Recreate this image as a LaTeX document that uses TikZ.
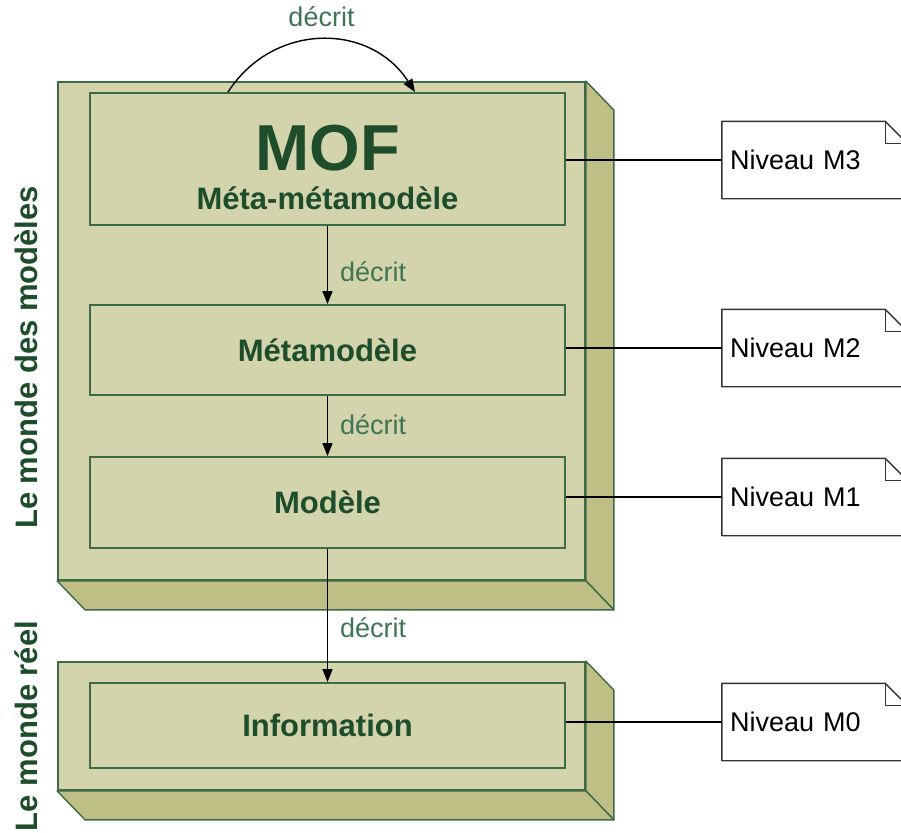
\documentclass[tikz,border=0pt]{standalone}
\usepackage{fontspec}
\setmainfont{Liberation Sans}
\usetikzlibrary{positioning,arrows.meta}
\definecolor{SlabFace}{HTML}{D3D3AC}
\definecolor{SlabSide}{HTML}{BFBE85}
\definecolor{EdgeGreen}{HTML}{3D6B47}
\definecolor{TextGreen}{HTML}{1E4D2B}
\definecolor{LinkGreen}{HTML}{3F7454}
\definecolor{NoteEdge}{HTML}{333333}

\begin{document}
\begin{tikzpicture}[
  x=1pt, y=-1pt,
  slab/.style={draw=EdgeGreen, line width=1.8pt, fill=SlabFace, minimum width=527pt, inner sep=0pt},
  side/.style={draw=EdgeGreen, line width=1.4pt, fill=SlabSide, line join=round},
  layer/.style={draw=EdgeGreen, line width=1.8pt, fill=SlabFace, minimum width=475pt, inner sep=0pt,
    align=center, text=TextGreen, font=\fontsize{31}{36}\selectfont\bfseries},
  title/.style={text=TextGreen, inner sep=0pt, font=\fontsize{65}{70}\selectfont\bfseries},
  note/.style={minimum height=77pt, text width=169pt, inner xsep=8pt, align=left, font=\fontsize{27}{32}\selectfont},
  fold/.style={draw=NoteEdge, line width=1.4pt, line join=round},
  arr/.style={-{Triangle[length=13pt,width=10pt]}, line width=1.4pt},
  link/.style={draw=black, line width=1.2pt},
  lbl/.style={text=LinkGreen, inner sep=0pt, font=\fontsize{27}{32}\selectfont},
  world/.style={rotate=90, text=TextGreen, inner sep=0pt, font=\fontsize{31}{36}\selectfont\bfseries}
]
  \useasboundingbox (0,0) rectangle (901,832);

  % le monde des modeles
  \node[slab, minimum height=498pt] (models) at (321.5,331) {};
  \filldraw[side] (models.north east) -- ++(28,29) -- ([shift={(28,29)}]models.south east) -- (models.south east) -- cycle;
  \filldraw[side] (models.south west) -- ++(28,29) -- ([shift={(28,29)}]models.south east) -- (models.south east) -- cycle;

  % le monde reel
  \node[slab, minimum height=128pt] (real) at (321.5,726) {};
  \filldraw[side] (real.north east) -- ++(28,29) -- ([shift={(28,29)}]real.south east) -- (real.south east) -- cycle;
  \filldraw[side] (real.south west) -- ++(28,29) -- ([shift={(28,29)}]real.south east) -- (real.south east) -- cycle;

  \node[layer, minimum height=132pt] (mof) at (327.5,159) {};
  \node[title] (mofname) at ([yshift=11pt]mof.center) {MOF};
  \node[layer, draw=none, fill=none] (mofsub) at ([yshift=-39pt]mof.center) {Méta-métamodèle};
  \node[layer, minimum height=90pt] (meta) at (327.5,350) {Métamodèle};
  \node[layer, minimum height=91pt] (modele) at (327.5,502.5) {Modèle};
  \node[layer, minimum height=85pt] (info) at (327.5,725.5) {Information};

  \node[world] (modelworld) at (26,357.5) {Le monde des modèles};
  \node[world] (realworld) at (26,726) {Le monde réel};

  % niveaux
  \node[note] (m3) at (814.5,160) {Niveau M3};
  \node[note] (m2) at (814.5,348) {Niveau M2};
  \node[note] (m1) at (814.5,497) {Niveau M1};
  \node[note] (m0) at (814.5,722) {Niveau M0};
  \foreach \n in {m3,m2,m1,m0}{
    \draw[fold] (\n.north west) -- ([xshift=-22pt]\n.north east) -- ([yshift=-22pt]\n.north east)
      -- (\n.south east) -- (\n.south west) -- cycle;
    \draw[fold] ([xshift=-22pt]\n.north east) |- ([yshift=-22pt]\n.north east);
  }

  \draw[link] (mof.east |- m3.west) -- (m3.west);
  \draw[link] (meta.east |- m2.west) -- (m2.west);
  \draw[link] (modele.east |- m1.west) -- (m1.west);
  \draw[link] (info.east |- m0.west) -- (m0.west);

  \draw[arr] ([xshift=-99.5pt]mof.north) .. controls +(45,-70) and +(-45,-70) .. node[lbl, above=12pt] (selfdesc) {décrit} ([xshift=87.5pt]mof.north);
  \draw[arr] (mof.south) -- node[lbl, pos=0.59, right=12pt] {décrit} (meta.north);
  \draw[arr] (meta.south) -- node[lbl, pos=0.48, right=12pt] {décrit} (modele.north);
  \draw[arr] (modele.south) -- node[lbl, pos=0.59, right=12pt] {décrit} (info.north);
\end{tikzpicture}
\end{document}
